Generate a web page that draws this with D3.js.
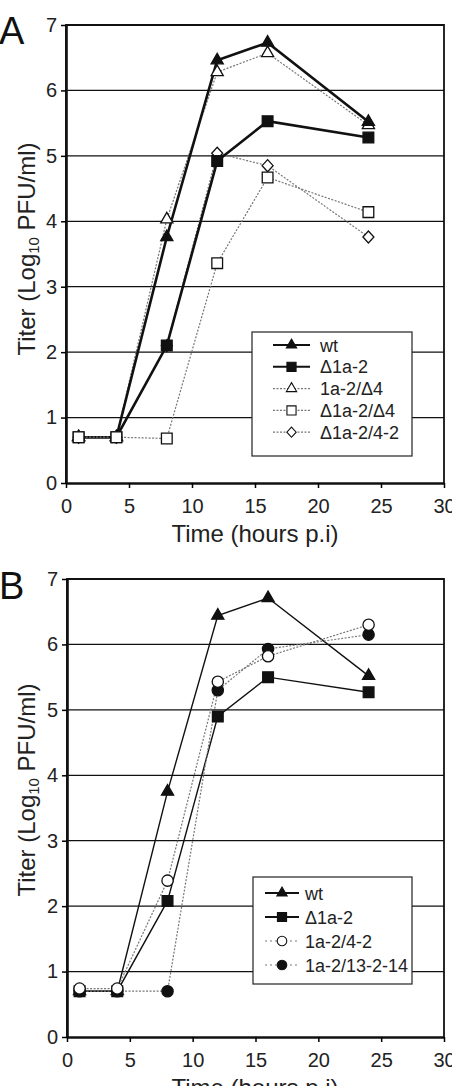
<!DOCTYPE html>
<html>
<head>
<meta charset="utf-8">
<script src="https://cdn.jsdelivr.net/npm/d3@7"></script>
<style>
  body { margin: 0; background: #fff; }
  svg { display: block; font-family: "Liberation Sans", Arial, sans-serif; }
</style>
</head>
<body>
<svg width="452" height="1086"></svg>
<script>
// Data
const hours = [1, 4, 8, 12, 16, 24];
const xTicks = [0, 5, 10, 15, 20, 25, 30];
const yTicks = [0, 1, 2, 3, 4, 5, 6, 7];

// panel A
const aWt = [0.7, 0.7, 3.76, 6.46, 6.73, 5.52];
const aD1a2 = [0.7, 0.7, 2.1, 4.92, 5.53, 5.28];
const a1a2D4 = [0.7, 0.7, 4.03, 6.28, 6.57, 5.47];
const aD1a2D4 = [0.7, 0.7, 0.68, 3.36, 4.67, 4.14];
const aD1a242 = [0.7, 0.7, 2.1, 5.04, 4.85, 3.76];

// panel B
const bWt = [0.7, 0.7, 3.75, 6.44, 6.71, 5.52];
const bD1a2 = [0.7, 0.7, 2.08, 4.9, 5.5, 5.27];
const b1a242 = [0.74, 0.74, 2.39, 5.43, 5.82, 6.3];
const b1a213 = [0.7, 0.7, 0.7, 5.3, 5.93, 6.15];

const svg = d3.select('svg');

// marker shapes
function markerPath(type) {
    if (type === 'tri') return d3.symbol(d3.symbolTriangle, 64)();
    if (type === 'sq') return d3.symbol(d3.symbolSquare, 115)();
    if (type === 'circ') return d3.symbol(d3.symbolCircle, 100)();
    if (type === 'dia') return 'M0,-6L5.5,0L0,6L-5.5,0Z';
}

function drawPanel(p) {
    const g = svg.append('g');

    const x = d3.scaleLinear().domain([0, 30]).range([p.left, p.right]);
    const y = d3.scaleLinear().domain([0, 7]).range([p.bottom, p.top]);

    // gridlines
    g.selectAll('.grid')
        .data(yTicks.slice(1, -1)).enter()
        .append('line')
        .attr('x1', p.left).attr('x2', p.right)
        .attr('y1', d => y(d)).attr('y2', d => y(d))
        .attr('stroke', '#111')
        .attr('stroke-width', 1.3);

    // frame
    g.append('path')
        .attr('d', `M${p.left},${p.bottom}L${p.left},${p.top}L${p.right},${p.top}L${p.right},${p.bottom}`)
        .attr('fill', 'none').attr('stroke', '#111').attr('stroke-width', 1.8);

    // axes
    const xAxis = d3.axisBottom(x).tickValues(xTicks).tickSize(5).tickSizeOuter(0).tickFormat(d3.format('d'));
    g.append('g')
        .attr('transform', `translate(0, ${p.bottom})`)
        .call(xAxis)
        .call(a => a.select('.domain').attr('stroke-width', 2.6).attr('stroke', '#111'))
        .call(a => a.selectAll('.tick line').attr('stroke-width', 1.5))
        .call(a => a.selectAll('text').attr('font-size', 20).attr('fill', '#222').attr('dy', '1em').attr('y', 10));

    const yAxis = d3.axisLeft(y).tickValues(yTicks).tickSize(5).tickSizeOuter(0).tickFormat(d3.format('d'));
    g.append('g')
        .attr('transform', `translate(${p.left}, 0)`)
        .call(yAxis)
        .call(a => a.select('.domain').attr('stroke-width', 2.6).attr('stroke', '#111'))
        .call(a => a.selectAll('.tick line').attr('stroke-width', 1.5))
        .call(a => a.selectAll('text').attr('font-size', 20).attr('fill', '#222').attr('x', -9));

    // series lines
    const line = d3.line().x((d, i) => x(hours[i])).y(d => y(d));
    const drawOrder = p.order.map(k => p.series[k]);
    drawOrder.forEach(s => {
        g.append('path')
            .datum(s.values)
            .attr('d', line)
            .attr('fill', 'none')
            .attr('stroke', s.solid ? '#111' : '#777')
            .attr('stroke-width', s.solid ? p.solidWidth : 1.2)
            .attr('stroke-dasharray', s.solid ? null : '2,1.5');
    });
    drawOrder.forEach(s => {
        g.selectAll(null)
            .data(s.values).enter()
            .append('path')
            .attr('d', markerPath(s.shape))
            .attr('transform', (d, i) => `translate(${x(hours[i])}, ${y(d)})`)
            .attr('fill', s.filled ? '#111' : '#fff')
            .attr('stroke', '#111')
            .attr('stroke-width', 1.3);
    });

    // legend
    const lg = g.append('g');
    lg.append('rect')
        .attr('x', p.legend.x).attr('y', p.legend.y)
        .attr('width', p.legend.w).attr('height', p.legend.h)
        .attr('fill', '#fff').attr('stroke', '#222').attr('stroke-width', 1.2);
    p.series.forEach((s, i) => {
        const ly = p.legend.y + p.legend.first + i * p.legend.step;
        lg.append('line')
            .attr('x1', p.legend.lx1).attr('x2', p.legend.lx2)
            .attr('y1', ly).attr('y2', ly)
            .attr('stroke', s.solid ? '#111' : '#777')
            .attr('stroke-width', s.solid ? 2 : 1.2)
            .attr('stroke-dasharray', s.solid ? null : (p.legend.dash || '2,1.5'));
        lg.append('path')
            .attr('d', markerPath(s.shape))
            .attr('transform', `translate(${(p.legend.lx1 + p.legend.lx2) / 2}, ${ly}) scale(0.85)`)
            .attr('fill', s.filled ? '#111' : '#fff')
            .attr('stroke', '#111').attr('stroke-width', 1.3);
        lg.append('text')
            .attr('x', p.legend.tx).attr('y', ly + 6.5)
            .attr('font-size', 18).attr('fill', '#222')
            .text(s.name);
    });

    // panel letter
    svg.append('text')
        .attr('x', -1).attr('y', p.top + p.letterDy)
        .attr('font-size', 38).attr('fill', '#111')
        .text(p.letter);

    // x title
    svg.append('text')
        .attr('x', 255).attr('y', p.bottom + p.xTitleDy)
        .attr('text-anchor', 'middle')
        .attr('font-size', 24).attr('fill', '#222')
        .text('Time (hours p.i)');

    // y title
    const yt = svg.append('text')
        .attr('transform', `translate(35, ${p.yTitleY}) rotate(-90)`)
        .attr('text-anchor', 'middle')
        .attr('font-size', 24).attr('fill', '#222');
    yt.append('tspan').text('Titer (Log');
    yt.append('tspan').attr('font-size', 15).attr('dy', 4).text('10');
    yt.append('tspan').attr('dy', -4).text(' PFU/ml)');
}

drawPanel({
    letter: 'A', letterDy: 19,
    left: 66, right: 444, top: 25, bottom: 483,
    xTitleDy: 59, yTitleY: 249,
    solidWidth: 2.6,
    series: [
        { name: 'wt', values: aWt, shape: 'tri', filled: true, solid: true },
        { name: 'Δ1a-2', values: aD1a2, shape: 'sq', filled: true, solid: true },
        { name: '1a-2/Δ4', values: a1a2D4, shape: 'tri', filled: false, solid: false },
        { name: 'Δ1a-2/Δ4', values: aD1a2D4, shape: 'sq', filled: false, solid: false },
        { name: 'Δ1a-2/4-2', values: aD1a242, shape: 'dia', filled: false, solid: false }
    ],
    order: [4, 2, 0, 1, 3],
    legend: { x: 252, y: 332, w: 160, h: 124, first: 13, step: 21.8, lx1: 273, lx2: 310, tx: 320 }
});

drawPanel({
    letter: 'B', letterDy: 20,
    left: 67, right: 444, top: 579, bottom: 1037,
    xTitleDy: 59, yTitleY: 790,
    solidWidth: 1.4,
    series: [
        { name: 'wt', values: bWt, shape: 'tri', filled: true, solid: true },
        { name: 'Δ1a-2', values: bD1a2, shape: 'sq', filled: true, solid: true },
        { name: '1a-2/4-2', values: b1a242, shape: 'circ', filled: false, solid: false },
        { name: '1a-2/13-2-14', values: b1a213, shape: 'circ', filled: true, solid: false }
    ],
    order: [0, 1, 3, 2],
    legend: { x: 253, y: 877, w: 159, h: 107, first: 16, step: 24, lx1: 265, lx2: 299, tx: 305, dash: '2,3' }
});
</script>
</body>
</html>
